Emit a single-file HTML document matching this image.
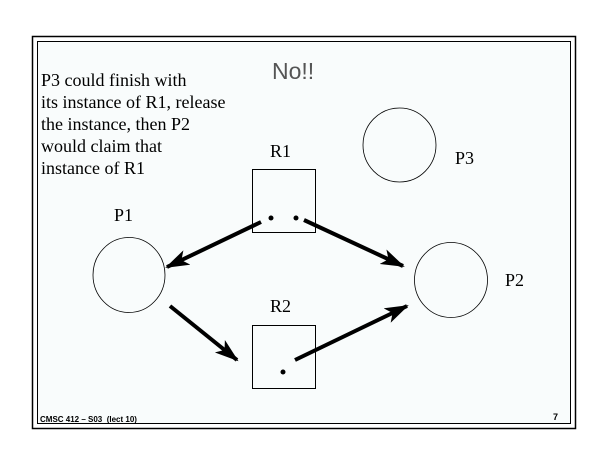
<!DOCTYPE html>
<html><head><meta charset="utf-8"><style>
html,body{margin:0;padding:0;background:#fff;}
body{width:605px;height:467px;position:relative;overflow:hidden;}
.t{position:absolute;font-family:"Liberation Serif",serif;font-size:18px;color:#000;white-space:nowrap;line-height:1;}
</style></head><body>
<svg width="605" height="467" style="position:absolute;left:0;top:0">
<defs><marker id="a" markerWidth="6" markerHeight="4" refX="5.5" refY="2" orient="auto" markerUnits="strokeWidth"><path d="M0,0 L6,2 L0,4 L1.5,2 Z" fill="#000"/></marker></defs>
<rect x="32.5" y="36.5" width="543" height="392" fill="#fff" stroke="#000" stroke-width="1.5"/>
<rect x="37.5" y="41.5" width="533" height="382" fill="#f9fcfc" stroke="#000" stroke-width="1"/>
<rect x="252.5" y="169.5" width="63" height="63" fill="none" stroke="#000"/>
<rect x="252.5" y="325.5" width="63" height="63" fill="none" stroke="#000"/>
<circle cx="271" cy="218" r="2.5"/><circle cx="296" cy="218" r="2.5"/><circle cx="283" cy="372" r="2.5"/>
<ellipse cx="399.5" cy="145" rx="36.5" ry="37" fill="none" stroke="#000" stroke-width="0.8"/>
<ellipse cx="129" cy="275" rx="36" ry="37.5" fill="none" stroke="#000" stroke-width="0.8"/>
<ellipse cx="451" cy="280" rx="36.5" ry="37.5" fill="none" stroke="#000" stroke-width="0.8"/>
<g stroke="#000" stroke-width="4" fill="none">
<line x1="261" y1="222" x2="167" y2="267" marker-end="url(#a)"/>
<line x1="304" y1="220" x2="403" y2="266" marker-end="url(#a)"/>
<line x1="170" y1="306" x2="237" y2="360" marker-end="url(#a)"/>
<line x1="295" y1="360" x2="407" y2="306" marker-end="url(#a)"/>
</g>
</svg>
<div class="t" style="left:41px;top:69px;line-height:22px;">P3 could finish with<br>its instance of R1, release<br>the instance, then P2<br>would claim that<br>instance of R1</div>
<div class="t" style="left:272px;top:60px;font-family:'Liberation Sans',sans-serif;font-size:23px;color:#555;">No!!</div>
<div class="t" style="left:270px;top:142px;">R1</div>
<div class="t" style="left:455px;top:149px;">P3</div>
<div class="t" style="left:114px;top:206px;">P1</div>
<div class="t" style="left:505px;top:271px;">P2</div>
<div class="t" style="left:270px;top:297px;">R2</div>
<div class="t" style="left:40px;top:416px;font-family:'Liberation Sans',sans-serif;font-size:8px;font-weight:bold;">CMSC 412 – S03 &nbsp;(lect 10)</div>
<div class="t" style="left:553px;top:413px;font-family:'Liberation Sans',sans-serif;font-size:9px;font-weight:bold;">7</div>
</body></html>
